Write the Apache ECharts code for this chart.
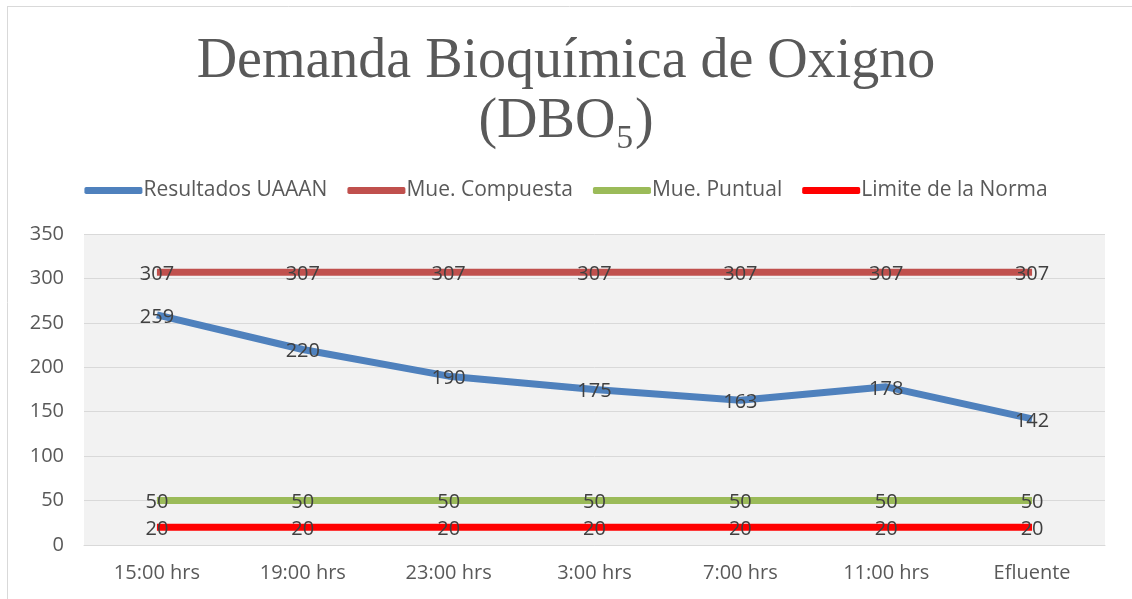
<!DOCTYPE html>
<html><head><meta charset="utf-8">
<script src="https://cdn.jsdelivr.net/npm/echarts@6/dist/echarts.min.js"></script>
<style>html,body{margin:0;padding:0;background:#fff}#c{width:1132px;height:599px}</style>
</head><body><div id="c"></div>
<script>
const categories = ['15:00 hrs','19:00 hrs','23:00 hrs','3:00 hrs','7:00 hrs','11:00 hrs','Efluente'];
const resultadosUAAAN = [259,220,190,175,163,178,142];
const mueCompuesta = [307,307,307,307,307,307,307];
const muePuntual = [50,50,50,50,50,50,50];
const limiteNorma = [20,20,20,20,20,20,20];
const yTicks = {min:0,max:350,interval:50};

const chart = echarts.init(document.getElementById('c'));
const lab = {show:true, position:'inside', color:'#404040', fontSize:20, fontFamily:'Open Sans', offset:[0,2]};
function s(name, data, color){
  return {name, type:'line', data, symbol:'circle', symbolSize:0.1, showSymbol:true,
    lineStyle:{width:7,color}, itemStyle:{color},
    label:lab, z:2};
}
chart.setOption({
  animation:false,
  graphic:[
    {type:'line', shape:{x1:7,y1:6.5,x2:1132,y2:6.5}, style:{stroke:'#d9d9d9',lineWidth:1}, silent:true},
    {type:'line', shape:{x1:7.5,y1:6,x2:7.5,y2:599}, style:{stroke:'#d9d9d9',lineWidth:1}, silent:true}
  ],
  title:{text:'Demanda Bioquímica de Oxigno\n(DBO₅)', left:'center', top:27,
    textStyle:{fontFamily:'Liberation Serif', fontWeight:'normal', fontSize:56, color:'#595959', lineHeight:60}},
  legend:{top:175, left:'center', itemWidth:58, itemHeight:7, itemGap:20,
    icon:'roundRect',
    textStyle:{fontFamily:'Open Sans', fontSize:21, color:'#595959', padding:[0,0,0,-4]},
    data:['Resultados UAAAN','Mue. Compuesta','Mue. Puntual','Limite de la Norma']},
  grid:{left:84, right:27, top:234, bottom:54, show:true, backgroundColor:'#f2f2f2', borderWidth:0},
  xAxis:{type:'category', data:categories, boundaryGap:true,
    axisLine:{show:true, lineStyle:{color:'#d9d9d9'}}, axisTick:{show:false},
    axisLabel:{fontFamily:'Open Sans', fontSize:20, color:'#595959', margin:18}},
  yAxis:{type:'value', min:yTicks.min, max:yTicks.max, interval:yTicks.interval,
    axisLine:{show:false}, axisTick:{show:false},
    splitLine:{lineStyle:{color:'#d9d9d9', width:1}},
    axisLabel:{fontFamily:'Open Sans', fontSize:20, color:'#595959', margin:20}},
  series:[
    s('Resultados UAAAN', resultadosUAAAN, '#4f81bd'),
    s('Mue. Compuesta', mueCompuesta, '#c0504d'),
    s('Mue. Puntual', muePuntual, '#9bbb59'),
    s('Limite de la Norma', limiteNorma, '#ff0000')
  ]
});
</script></body></html>
